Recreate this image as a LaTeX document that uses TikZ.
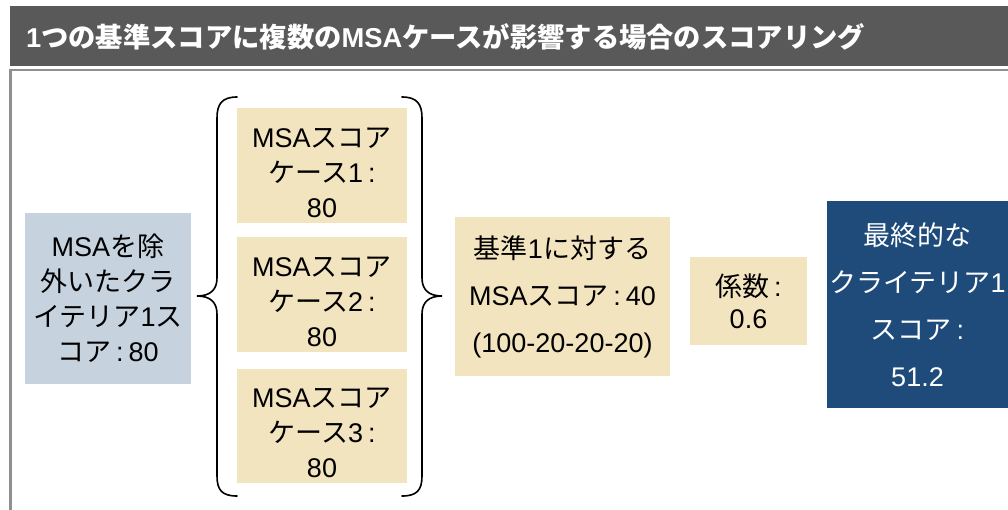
\documentclass[tikz,border=0pt]{standalone}
\usepackage{fontspec}
\setmainfont{Liberation Sans}
\newfontfamily\jp{Noto Sans CJK JP}
\definecolor{barGray}{HTML}{595959}
\definecolor{frameGray}{HTML}{8F8F8F}
\definecolor{paleBlue}{HTML}{C6D3DF}
\definecolor{tanFill}{HTML}{F3E4C0}
\definecolor{navyFill}{HTML}{1F4B7B}
\newcommand{\cln}{\hspace{0.18em}:\hspace{0.18em}}
\newcommand{\clnend}{\hspace{0.18em}:}
\begin{document}
\begin{tikzpicture}[x=1pt,y=-1pt,
  box/.style={inner sep=0pt, align=center, font=\fontsize{27}{35}\selectfont},
  bluebox/.style={box, fill=paleBlue},
  tanbox/.style={box, fill=tanFill},
  navybox/.style={box, fill=navyFill, text=white},
  casetext/.style={box, yshift=-7},
  bracepath/.style={draw=black, line width=1.6pt, line cap=round}]
\useasboundingbox (0,0) rectangle (1008,509);
\fill[white] (0,0) rectangle (1008,509);
% title bar
\node[fill=barGray, minimum width=998, minimum height=60, inner sep=0pt, anchor=north west] (bar) at (10,6) {};
\node[anchor=west, text=white, inner sep=0pt, font=\fontsize{27.3}{30}\selectfont\bfseries] (title) at (26,36.5)
  {1{\jp つの基準スコアに複数の}MSA{\jp ケースが影響する場合のスコアリング}};
% frame
\draw[frameGray, line width=2.5pt] (10.7,515) -- (10.7,70) -- (1015,70);
% boxes
\node[bluebox, minimum width=166, minimum height=171] (base) at (108,298.5)
  {MSA{\jp を除}\\{\jp 外いたクラ}\\{\jp イテリア}1{\jp ス}\\{\jp コア}\cln 80};
\node[tanbox, minimum width=170, minimum height=115] (c1) at (322,165.5) {};
\node[casetext] (c1t) at (c1.center) {MSA{\jp スコア}\\{\jp ケース}1\clnend\\80};
\node[tanbox, minimum width=170, minimum height=115] (c2) at (322,294.5) {};
\node[casetext] (c2t) at (c2.center) {MSA{\jp スコア}\\{\jp ケース}2\clnend\\80};
\node[tanbox, minimum width=170, minimum height=114] (c3) at (322,426) {};
\node[casetext] (c3t) at (c3.center) {MSA{\jp スコア}\\{\jp ケース}3\clnend\\80};
\node[tanbox, minimum width=215, minimum height=159, font=\fontsize{27}{47}\selectfont] (msa) at (562.5,296.5)
  {{\jp 基準}1{\jp に対する}\\MSA{\jp スコア}\cln 40\\(100-20-20-20)};
\node[tanbox, minimum width=117, minimum height=88, font=\fontsize{27}{32}\selectfont] (coef) at (748.5,301)
  {{\jp 係数}\clnend\\0.6};
\node[navybox, minimum width=181, minimum height=207, font=\fontsize{27}{47}\selectfont] (final) at (917.5,304.5)
  {{\jp 最終的な}\\{\jp クライテリア}1\\{\jp スコア}\clnend\\51.2};
% braces
\draw[bracepath] (237,97) .. controls (222,97) and (217,104) .. (217,118) -- (217,278)
  .. controls (217,290) and (210,296) .. (197,296)
  .. controls (210,296) and (217,302) .. (217,314) -- (217,476)
  .. controls (217,490) and (222,496) .. (237,496);
\draw[bracepath] (402,97) .. controls (417,97) and (422,104) .. (422,118) -- (422,278)
  .. controls (422,290) and (429,296) .. (442,296)
  .. controls (429,296) and (422,302) .. (422,314) -- (422,476)
  .. controls (422,490) and (417,496) .. (402,496);
\end{tikzpicture}
\end{document}
